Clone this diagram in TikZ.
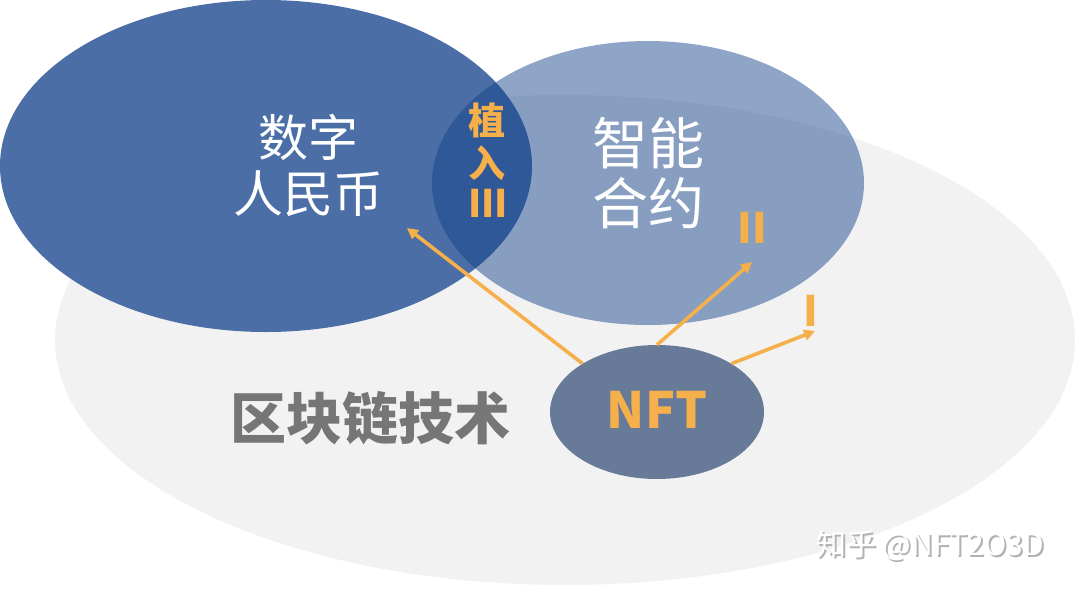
\documentclass[tikz,border=0pt]{standalone}
\usepackage{fontspec}
\newfontfamily\cjk{Noto Sans CJK SC}
\usetikzlibrary{shapes.geometric,arrows.meta}
\definecolor{deepblue}{RGB}{74,110,165}
\definecolor{paleblue}{RGB}{17,64,138}
\definecolor{nftblue}{RGB}{103,122,152}
\definecolor{amber}{RGB}{245,176,75}
\definecolor{bggray}{RGB}{242,242,242}
\definecolor{txtgray}{RGB}{118,118,118}
\tikzset{blob/.style={ellipse,inner sep=0pt},
ptr/.style={amber,line width=3.6pt,-{Triangle[length=11pt,width=11pt]}},
amb/.style={text=amber,font=\cjk\bfseries}}
\begin{document}
\begin{tikzpicture}[x=1pt,y=-1pt,font=\cjk]
\useasboundingbox(0,0)rectangle(1080,592);
% three fields
\node[blob,fill=bggray,minimum width=1020pt,minimum height=490pt](chain)at(565,340){};
\node[blob,fill=deepblue,minimum width=532pt,minimum height=332pt](rmb)at(266,166){};
\node[blob,fill=paleblue,fill opacity=.47,minimum width=432pt,minimum height=284pt](smart)at(648,183){};
\node[blob,fill=nftblue,minimum width=214pt,minimum height=134pt](nft)at(657,412){};
% labels
\node[white,align=center,font=\cjk\fontsize{50}{56}\selectfont](rmbtxt)at(308,165){数字\\人民币};
\node[white,align=center,font=\cjk\fontsize{56}{60}\selectfont](smarttxt)at(648,173){智能\\合约};
\node[amb,align=center,font=\cjk\bfseries\fontsize{37}{43}\selectfont](plant)at(487,142){植\\入};
\node[amb,font=\cjk\bfseries\fontsize{38}{38}\selectfont](iii)at(488,203){III};
\node[amb,font=\cjk\bfseries\fontsize{42}{42}\selectfont](ii)at(752,228){II};
\node[amb,font=\cjk\bfseries\fontsize{42}{42}\selectfont](i)at(811,311){I};
\node[text=txtgray,font=\cjk\bfseries\fontsize{56}{56}\selectfont](chaintxt)at(370,418){区块链技术};
\node[amb,font=\cjk\bfseries\fontsize{50}{50}\selectfont](nfttxt)at(657,410){NFT};
% arrows
\coordinate(tip3)at(407,228);
\coordinate(tip2)at(752,262);
\coordinate(tip1)at(815,331);
\draw[ptr](nft.147)--(tip3);
\draw[ptr](nft.north)--(tip2);
\draw[ptr](nft.33)--(tip1);
% mark
\node[black!30,font=\cjk\fontsize{30}{30}\selectfont](markshd)at(932,547){知乎 @NFT2O3D};
\node[white,font=\cjk\fontsize{30}{30}\selectfont](mark)at(930,545){知乎 @NFT2O3D};
\end{tikzpicture}
\end{document}
